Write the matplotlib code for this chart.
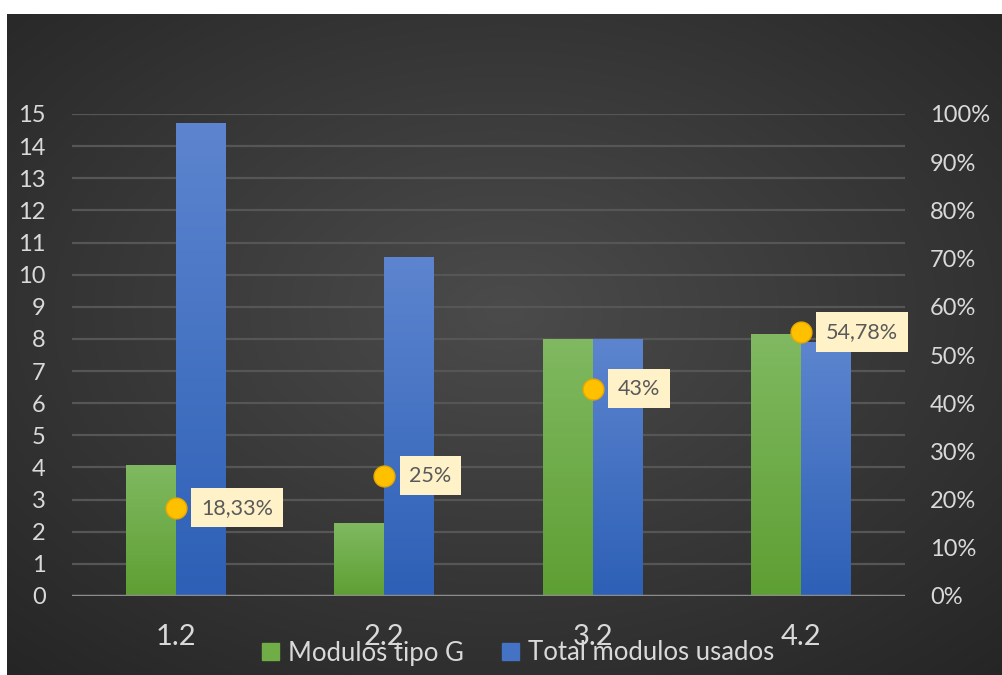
import matplotlib.pyplot as plt
import matplotlib.patches as mpatches
import numpy as np

plt.rcParams['font.family'] = ['Lato', 'DejaVu Sans']

categorias = ['1.2', '2.2', '3.2', '4.2']
modulos_g = [4.08, 2.27, 8.0, 8.15]
total_modulos = [14.72, 10.55, 8.0, 7.9]
porcentaje = [0.1833, 0.25, 0.43, 0.5478]
etiquetas = ['18,33%', '25%', '43%', '54,78%']

fig = plt.figure(figsize=(10.03, 6.75), dpi=100)
fig.patch.set_facecolor('white')

# fondo oscuro con degradado radial
bg = fig.add_axes([7 / 1003, 0, 996 / 1003, 661 / 675])
yy, xx = np.mgrid[0:1:300j, 0:1:400j]
r = np.sqrt(((xx - 0.5) / 0.75) ** 2 + ((yy - 0.55) / 0.75) ** 2)
r = np.clip(r, 0, 1)
c0, c1 = 0x4b / 255, 0x25 / 255
g = c0 + (c1 - c0) * r
bg.imshow(np.dstack([g, g, g]), extent=[0, 1, 0, 1], aspect='auto', origin='lower')
bg.axis('off')

ax = fig.add_axes([72 / 1003, 79 / 675, 833 / 1003, 482 / 675])
ax.patch.set_alpha(0)
x = np.arange(len(categorias))
w = 0.24

for v in range(1, 16):
    ax.axhline(v, color='#565656', lw=1.6, zorder=0)

b1 = ax.bar(x - w / 2, modulos_g, w, color='#70ad47', zorder=2)
b2 = ax.bar(x + w / 2, total_modulos, w, color='#4472c4', zorder=2)

def degradado(barras, top, bottom):
    top = np.array(plt.matplotlib.colors.to_rgb(top))
    bottom = np.array(plt.matplotlib.colors.to_rgb(bottom))
    t = np.linspace(0, 1, 100)[:, None]
    img = (bottom + (top - bottom) * t)[:, None, :].repeat(2, axis=1)
    for p in barras:
        x0, y0 = p.get_x(), p.get_y()
        im = ax.imshow(img, extent=[x0, x0 + p.get_width(), y0, y0 + p.get_height()],
                       origin='lower', aspect='auto', zorder=2.1)
        im.set_clip_path(p)

degradado(b1, '#80b961', '#5e9f33')
degradado(b2, '#5d85cf', '#2d60b6')

ax.axhline(0, color='#8c8c8c', lw=2.5, zorder=3)

ax.set_xlim(-0.5, 3.5)
ax.set_ylim(0, 15)
ax.set_yticks(range(0, 16))
ax.set_xticks(x)
ax.set_xticklabels(categorias)
ax.tick_params(axis='y', length=0, pad=19, labelsize=17, labelcolor='#d9d9d9')
ax.tick_params(axis='x', length=0, pad=20, labelsize=21, labelcolor='#d9d9d9')
for s in ax.spines.values():
    s.set_visible(False)

ax2 = ax.twinx()
ax2.set_ylim(0, 1)
ax2.set_yticks(np.arange(0, 1.01, 0.1))
ax2.set_yticklabels([f'{int(round(v * 100))}%' for v in np.arange(0, 1.01, 0.1)])
ax2.tick_params(axis='y', length=0, pad=18, labelsize=17, labelcolor='#d9d9d9')
for s in ax2.spines.values():
    s.set_visible(False)

ax2.plot(x, porcentaje, 'o', ms=15, color='#ffc000', mec='#e6a800', mew=1, zorder=5)
for xi, p, lab in zip(x, porcentaje, etiquetas):
    ax2.annotate(lab, (xi, p), xytext=(18, 0), textcoords='offset points',
                 va='center', ha='left', fontsize=15.5, color='#595959', zorder=6,
                 bbox=dict(boxstyle='square,pad=0.45', fc='#fff1c8', ec='none'))

handles = [mpatches.Patch(color='#70ad47', label='Modulos tipo G'),
           mpatches.Patch(color='#4472c4', label='Total modulos usados')]
leg = fig.legend(handles=handles, loc='center', bbox_to_anchor=(518 / 1003, 1 - 653 / 675),
                 ncol=2, frameon=False, fontsize=18.5, handlelength=0.65, handleheight=0.65,
                 handletextpad=0.35, columnspacing=1.5)
for t in leg.get_texts():
    t.set_color('#d9d9d9')

fig.savefig('out.png', dpi=100, facecolor=fig.get_facecolor())
